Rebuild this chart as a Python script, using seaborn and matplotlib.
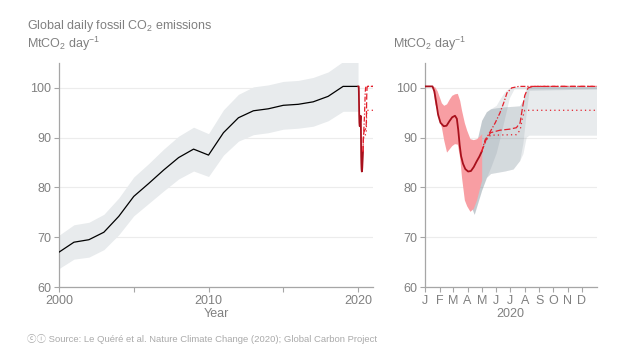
import matplotlib
matplotlib.use("Agg")
import pandas as pd
import matplotlib.pyplot as plt
import seaborn as sns

# yearly mean daily emissions (MtCO2 / day) with uncertainty range
years = [2000, 2001, 2002, 2003, 2004, 2005, 2006, 2007, 2008, 2009, 2010,
         2011, 2012, 2013, 2014, 2015, 2016, 2017, 2018, 2019, 2020]
year_mean = [67.0, 69.0, 69.5, 71.0, 74.2, 78.2, 80.8, 83.5, 86.0, 87.7, 86.5,
             91.0, 94.0, 95.4, 95.8, 96.5, 96.7, 97.2, 98.3, 100.3, 100.3]
year_lo = [63.7, 65.6, 66.0, 67.5, 70.5, 74.3, 76.8, 79.3, 81.7, 83.3, 82.2,
           86.5, 89.3, 90.6, 91.0, 91.7, 91.9, 92.3, 93.4, 95.3, 95.3]
year_hi = [70.4, 72.5, 73.0, 74.6, 77.9, 82.1, 84.8, 87.7, 90.3, 92.1, 90.8,
           95.6, 98.7, 100.2, 100.6, 101.3, 101.5, 102.1, 103.2, 105.3, 105.3]

# 2020 observed daily emissions (day of year)
obs_day = [0, 16, 20, 24, 28, 33, 40, 46, 52, 58, 64, 68, 71, 74, 77, 81,
           86, 92, 98, 104, 110, 116, 121]
obs_val = [100.3, 100.3, 99.3, 97.0, 94.6, 93.0, 92.3, 92.4, 93.3, 94.1, 94.4,
           93.8, 91.5, 88.5, 86.3, 84.8, 83.7, 83.2, 83.3, 84.1, 85.2, 86.2, 87.2]

# uncertainty of the observed 2020 estimate
unc_day = [16, 21, 26, 32, 35, 40, 46, 52, 57, 63, 69, 74, 78, 84, 89, 96,
           103, 110, 117, 121]
unc_hi = [100.3, 100.2, 99.4, 97.8, 97.0, 96.5, 96.8, 97.8, 98.5, 98.8, 98.9,
          97.5, 95.5, 93.0, 91.5, 89.8, 89.6, 89.8, 90.4, 90.8]
unc_lo = [100.3, 96.8, 95.5, 93.0, 92.1, 89.5, 87.1, 87.8, 88.4, 88.8, 88.7,
          86.0, 82.0, 77.5, 76.3, 75.2, 75.8, 77.5, 80.1, 81.5]

# projection scenarios for the rest of 2020
fast_day = [121, 128, 138, 150, 160, 168, 175, 185, 200, 366]
fast_val = [87.2, 89.5, 91.0, 93.0, 95.0, 97.0, 99.0, 100.0, 100.3, 100.3]
mid_day = [121, 130, 140, 160, 180, 195, 203, 208, 213, 220, 230, 366]
mid_val = [87.2, 89.5, 91.0, 91.5, 91.7, 92.0, 93.0, 96.0, 98.5, 100.0, 100.3, 100.3]
slow_day = [121, 130, 140, 195, 203, 208, 213, 366]
slow_val = [87.2, 89.5, 90.5, 90.6, 91.5, 94.0, 95.5, 95.5]

# projection uncertainty ranges (one per scenario)
fast_band_day = [95, 105, 121, 131, 140, 152, 160, 170, 180, 190, 366]
fast_band_lo = [77.0, 74.6, 79.5, 82.0, 84.0, 87.0, 90.0, 94.0, 98.0, 99.8, 99.8]
fast_band_hi = [84.0, 87.0, 93.5, 95.2, 95.8, 96.5, 97.8, 99.2, 100.0, 100.3, 100.3]
mid_band_day = [95, 105, 121, 131, 140, 152, 170, 188, 202, 209, 216, 222, 366]
mid_band_lo = [77.0, 74.6, 79.5, 82.0, 82.8, 83.0, 83.3, 83.7, 85.4, 89.0, 95.0, 99.5, 99.8]
mid_band_hi = [84.0, 87.0, 93.5, 95.2, 95.8, 96.0, 96.2, 96.3, 96.4, 97.5, 99.8, 100.3, 100.3]
slow_band_day = [95, 105, 121, 131, 140, 152, 170, 188, 202, 209, 216, 222, 366]
slow_band_lo = [77.0, 74.6, 79.5, 82.0, 82.8, 83.0, 83.3, 83.7, 85.4, 86.8, 90.1, 90.5, 90.5]
slow_band_hi = [84.0, 87.0, 93.5, 95.2, 95.8, 96.0, 96.2, 96.3, 96.4, 97.5, 99.8, 100.3, 100.3]

month_starts = [0, 31, 60, 91, 121, 152, 182, 213, 244, 274, 305, 335]
month_labels = ["J", "F", "M", "A", "M", "J", "J", "A", "S", "O", "N", "D"]

TEXT = "#808080"
AXIS = "#a6a6a6"
DARK_RED = "#a8101c"
RED = "#e3202c"
PINK = "#f89ea3"
GREY = "#e8ebed"

sns.set_theme(style="white")
plt.rcParams["font.family"] = ["Liberation Sans", "DejaVu Sans"]
plt.rcParams["mathtext.fontset"] = "custom"
plt.rcParams["mathtext.rm"] = "Liberation Sans"
plt.rcParams["mathtext.it"] = "Liberation Sans:italic"

fig = plt.figure(figsize=(6.21, 3.51), dpi=100)
ax1 = fig.add_axes([59 / 621, 1 - 287 / 351, 314 / 621, 224 / 351])
ax2 = fig.add_axes([425 / 621, 1 - 287 / 351, 171.5 / 621, 224 / 351])

yearly = pd.DataFrame({"year": years, "mean": year_mean})
obs = pd.DataFrame({"day": obs_day, "val": obs_val})
obs["year"] = 2020 + obs["day"] / 366
scen = {
    "fast": (fast_day, fast_val, (4, 1.5, 1, 1.5)),
    "mid": (mid_day, mid_val, (5, 2)),
    "slow": (slow_day, slow_val, (1, 2.5)),
}

# ---- left panel: 2000-2020
ax1.fill_between(years, year_lo, year_hi, color=GREY, lw=0, zorder=1)
sns.lineplot(data=yearly, x="year", y="mean", color="black", lw=0.9, ax=ax1, zorder=3)
sns.lineplot(data=obs, x="year", y="val", color=DARK_RED, lw=1.3, ax=ax1, zorder=4)
for name, (d, v, dash) in scen.items():
    df = pd.DataFrame({"year": [2020 + x / 366 for x in d], "val": v})
    ln = sns.lineplot(data=df, x="year", y="val", color=RED, lw=0.9, ax=ax1, zorder=4)
    ln.lines[-1].set_dashes(dash)

ax1.set_xlim(2000, 2021)
ax1.set_xticks([2000, 2010, 2020])
ax1.set_xticks([2005, 2015], minor=True)
ax1.set_xlabel("Year", color=TEXT, fontsize=9, labelpad=1)

# ---- right panel: 2020 daily
bands = [(fast_band_day, fast_band_lo, fast_band_hi),
         (mid_band_day, mid_band_lo, mid_band_hi),
         (slow_band_day, slow_band_lo, slow_band_hi)]
for d, lo, hi in bands:
    ax2.fill_between(d, lo, hi, color="#667a87", alpha=0.15, lw=0, zorder=1)
ax2.fill_between(unc_day, unc_lo, unc_hi, color=PINK, lw=0, zorder=2)
sns.lineplot(data=obs, x="day", y="val", color=DARK_RED, lw=1.3, ax=ax2, zorder=4)
for name, (d, v, dash) in scen.items():
    df = pd.DataFrame({"day": d, "val": v})
    ln = sns.lineplot(data=df, x="day", y="val", color=RED, lw=0.9, ax=ax2, zorder=4)
    ln.lines[-1].set_dashes(dash)

ax2.set_xlim(0, 366)
ax2.set_xticks(month_starts)
ax2.set_xticklabels(month_labels)
ax2.set_xlabel("2020", color=TEXT, fontsize=9, labelpad=1)

for ax in (ax1, ax2):
    ax.set_ylim(60, 105)
    ax.set_yticks([60, 70, 80, 90, 100])
    ax.set_ylabel("")
    ax.yaxis.grid(True, color="#ececec", lw=0.8)
    ax.set_axisbelow(True)
    for s in ("top", "right"):
        ax.spines[s].set_visible(False)
    for s in ("left", "bottom"):
        ax.spines[s].set_color(AXIS)
        ax.spines[s].set_linewidth(0.9)
    ax.tick_params(which="both", direction="out", length=3.5, width=0.8,
                   color=AXIS, labelcolor=TEXT, labelsize=9, pad=2,
                   bottom=True, left=True)

fig.text(27 / 621, 1 - 29 / 351, "Global daily fossil CO$_2$ emissions",
         color=TEXT, fontsize=9)
fig.text(27 / 621, 1 - 48 / 351, "MtCO$_2$ day$^{-1}$", color=TEXT, fontsize=9)
fig.text(393 / 621, 1 - 48 / 351, "MtCO$_2$ day$^{-1}$", color=TEXT, fontsize=9)
fig.text(27 / 621, 1 - 342 / 351,
         "\u24d2\u24d8 Source: Le Quéré et al. Nature Climate Change (2020); Global Carbon Project",
         color="#aaaaaa", fontsize=6.8,
         family=["Liberation Sans", "Noto Sans CJK JP", "DejaVu Sans"])

fig.savefig("out.png", dpi=100)
